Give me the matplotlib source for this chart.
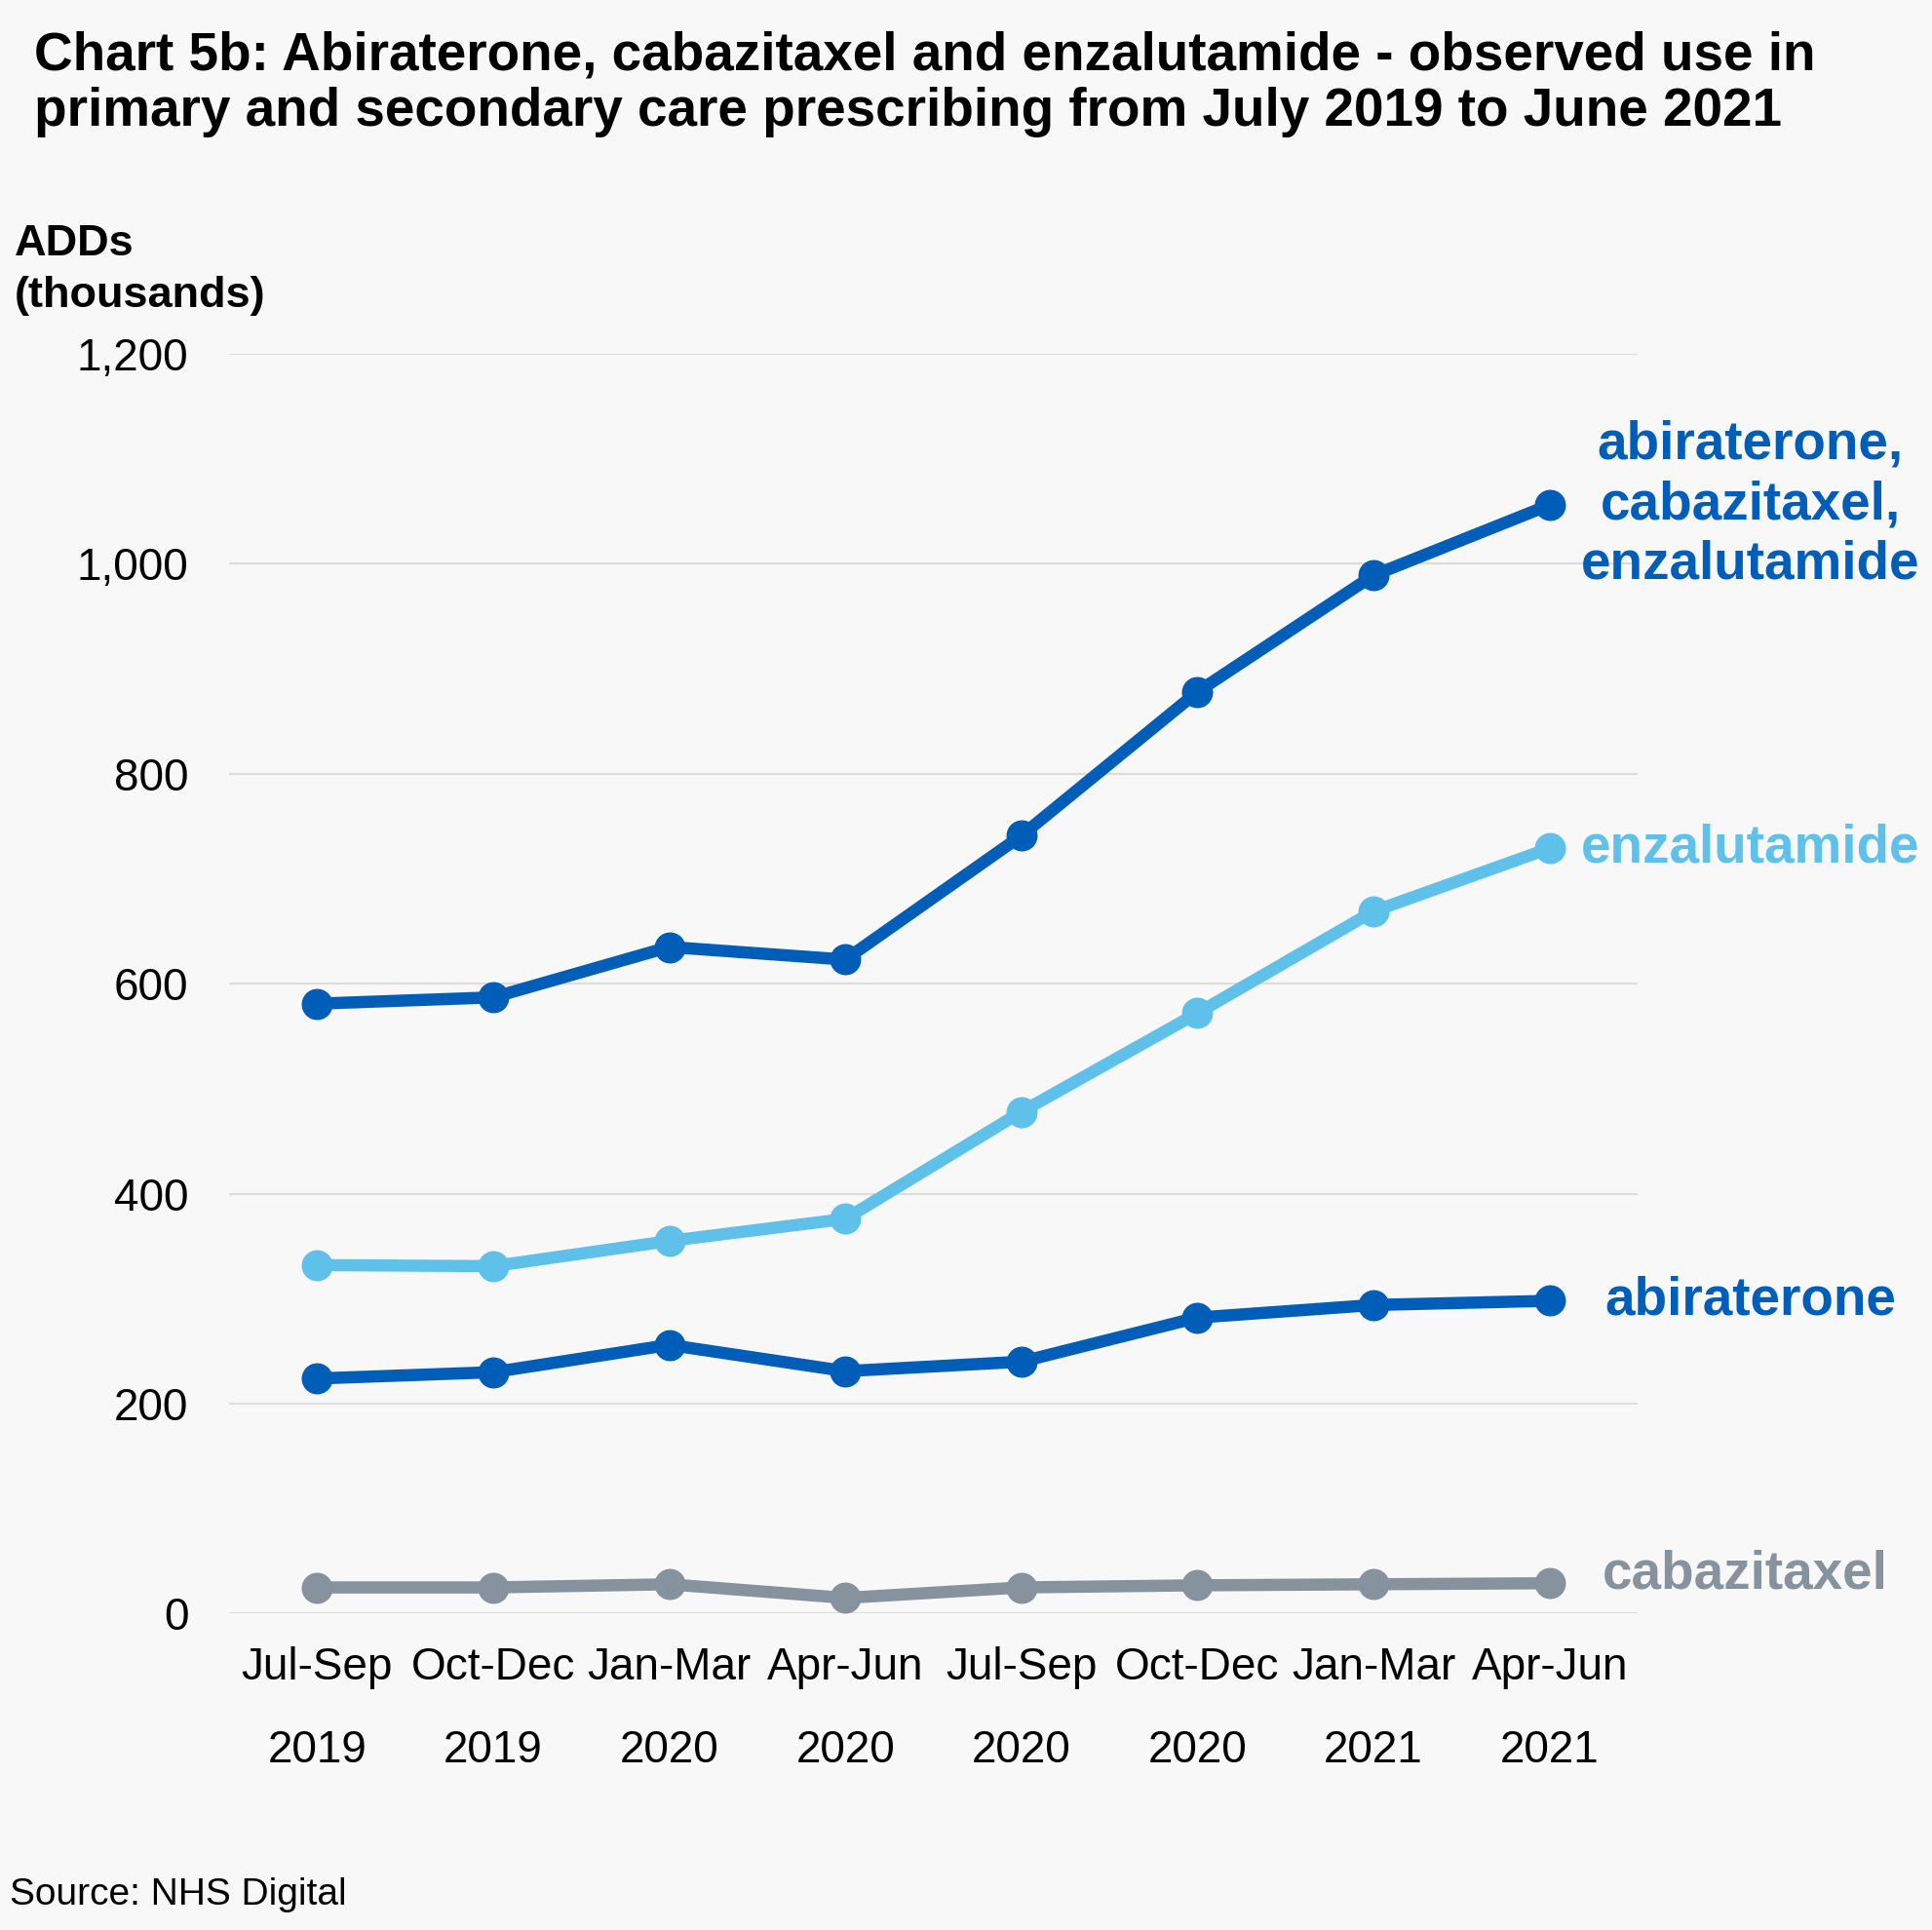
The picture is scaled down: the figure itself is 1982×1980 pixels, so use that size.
import matplotlib
matplotlib.use("Agg")
import matplotlib.pyplot as plt
from matplotlib.ticker import FuncFormatter

plt.rcParams['font.family'] = ['Liberation Sans', 'DejaVu Sans']

periods = ["Jul-Sep\n2019", "Oct-Dec\n2019", "Jan-Mar\n2020", "Apr-Jun\n2020",
           "Jul-Sep\n2020", "Oct-Dec\n2020", "Jan-Mar\n2021", "Apr-Jun\n2021"]
total = [581, 587, 635, 623, 741, 878, 989, 1056]
enzalutamide = [332, 331, 355, 376, 478, 572, 669, 729]
abiraterone = [224, 230, 256, 231, 240, 282, 294, 298]
cabazitaxel = [25, 25, 28, 15, 25, 27, 28, 29]

DARK = "#005EB8"
LIGHT = "#5FC1E9"
GREY = "#86929E"
BG = "#F8F8F8"

fig = plt.figure(figsize=(19.83, 19.80), dpi=100, facecolor=BG)
ax = fig.add_axes([0.1185, 0.1639, 0.7287, 0.6528], facecolor=BG)

x = list(range(len(periods)))
series = [(total, DARK), (enzalutamide, LIGHT), (abiraterone, DARK), (cabazitaxel, GREY)]
for vals, col in series:
    ax.plot(x, vals, color=col, lw=9, marker='o', ms=22, solid_capstyle='round', zorder=3)

ax.set_xlim(-0.5, 7.5)
ax.set_ylim(0, 1200)
ax.set_yticks(range(0, 1201, 200))
ax.yaxis.set_major_formatter(FuncFormatter(lambda v, p: f"{int(v):,}"))
ax.set_xticks(x)
ax.set_xticklabels(periods, linespacing=2.2)
ax.tick_params(axis='both', length=0, labelsize=33, colors='black')
ax.tick_params(axis='y', pad=30)
ax.tick_params(axis='x', pad=24)
ax.grid(axis='y', color='#DCDCDC', lw=1.5)
ax.set_axisbelow(True)
for s in ax.spines.values():
    s.set_visible(False)

lab_x = 8.14
lfs = 39.5
ax.text(lab_x, total[-1], "abiraterone,\ncabazitaxel,\nenzalutamide", color=DARK,
        fontsize=lfs, fontweight='bold', ha='center', va='center', linespacing=1.23, clip_on=False)
ax.text(lab_x, enzalutamide[-1], "enzalutamide", color=LIGHT,
        fontsize=lfs, fontweight='bold', ha='center', va='center', clip_on=False)
ax.text(lab_x, abiraterone[-1], "abiraterone", color=DARK,
        fontsize=lfs, fontweight='bold', ha='center', va='center', clip_on=False)
ax.text(lab_x - 0.03, cabazitaxel[-1] + 8, "cabazitaxel", color=GREY,
        fontsize=lfs, fontweight='bold', ha='center', va='center', clip_on=False)

fig.text(35 / 1983, 1 - 86 / 1980,
         "Chart 5b: Abiraterone, cabazitaxel and enzalutamide - observed use in\n"
         "primary and secondary care prescribing from July 2019 to June 2021",
         fontsize=39.5, fontweight='bold', ha='left', va='center', linespacing=1.15)
fig.text(15 / 1983, 1 - 277 / 1980, "ADDs\n(thousands)", fontsize=32.5, fontweight='bold',
         ha='left', va='center', linespacing=1.38)
fig.text(10 / 1983, 1 - 1944 / 1980, "Source: NHS Digital", fontsize=28, ha='left', va='center')

fig.savefig("out.png", dpi=100, facecolor=BG)
